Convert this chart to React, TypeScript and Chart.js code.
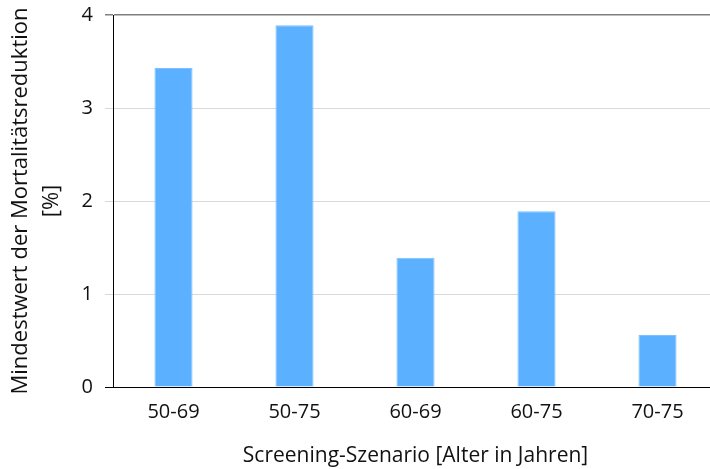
import React, { useEffect, useRef } from "react";
import { Chart, registerables } from "chart.js";

Chart.register(...registerables);

const categories = ["50-69", "50-75", "60-69", "60-75", "70-75"];
const values = [3.43, 3.89, 1.39, 1.89, 0.56];
const yTicks = [0, 1, 2, 3, 4];
const xTitle = "Screening-Szenario [Alter in Jahren]";
const yTitle = ["Mindestwert der Mortalitätsreduktion", "[%]"];

export default function App() {
  const ref = useRef<HTMLCanvasElement | null>(null);
  useEffect(() => {
    if (!ref.current) return;
    const tickFont = { family: "'Open Sans', sans-serif", size: 20 };
    const titleFont = { family: "'Open Sans', sans-serif", size: 21, lineHeight: 1.2 };
    const yTitleFont = { family: "'Open Sans', sans-serif", size: 22, lineHeight: 1.42 };
    const chart = new Chart(ref.current, {
      type: "bar",
      data: {
        labels: categories,
        datasets: [
          {
            data: values,
            backgroundColor: "#5BB1FF",
            borderColor: "#7CC0FF",
            borderWidth: 1,
            categoryPercentage: 1,
            barPercentage: 0.315,
          },
        ],
      },
      options: {
        animation: false,
        responsive: false,
        maintainAspectRatio: false,
        layout: { padding: { left: 0, top: 15, right: 4, bottom: 0 } },
        plugins: { legend: { display: false }, tooltip: { enabled: false } },
        scales: {
          x: {
            grid: { display: false, drawTicks: false },
            border: { display: true, color: "#000", width: 1 },
            ticks: { font: tickFont, color: "#111", padding: 13 },
            title: { display: true, text: xTitle, font: titleFont, color: "#111", padding: { top: 10, bottom: 0 } },
            afterFit: (s: any) => {
              s.height = 82;
            },
          },
          y: {
            min: 0,
            max: 4,
            afterBuildTicks: (s: any) => {
              s.ticks = yTicks.map((v) => ({ value: v }));
            },
            grid: {
              color: (c: any) => (c.tick && c.tick.value === 4 ? "#7f7f7f" : c.tick && c.tick.value === 0 ? "#000" : "#d9d9d9"),
              lineWidth: (c: any) => (c.tick && c.tick.value === 4 ? 1.5 : 1),
              tickLength: 8,
              tickColor: (c: any) => (c.tick && c.tick.value === 4 ? "#7f7f7f" : c.tick && c.tick.value === 0 ? "#000" : "#d9d9d9"),
            },
            border: { display: true, color: "#000", width: 1 },
            ticks: { font: tickFont, color: "#111", padding: 12 },
            title: { display: true, text: yTitle, font: yTitleFont, color: "#111", padding: { top: 5, bottom: 0 } },
            afterFit: (s: any) => {
              s.width = 113;
              s.paddingTop = 0;
              s.paddingBottom = 0;
            },
          },
        },
      },
    });
    return () => chart.destroy();
  }, []);
  return (
    <div style={{ position: "fixed", left: 0, top: 0, width: 722, height: 469, background: "#fff" }}>
      <canvas ref={ref} width={722} height={469} style={{ display: "block" }} />
    </div>
  );
}
